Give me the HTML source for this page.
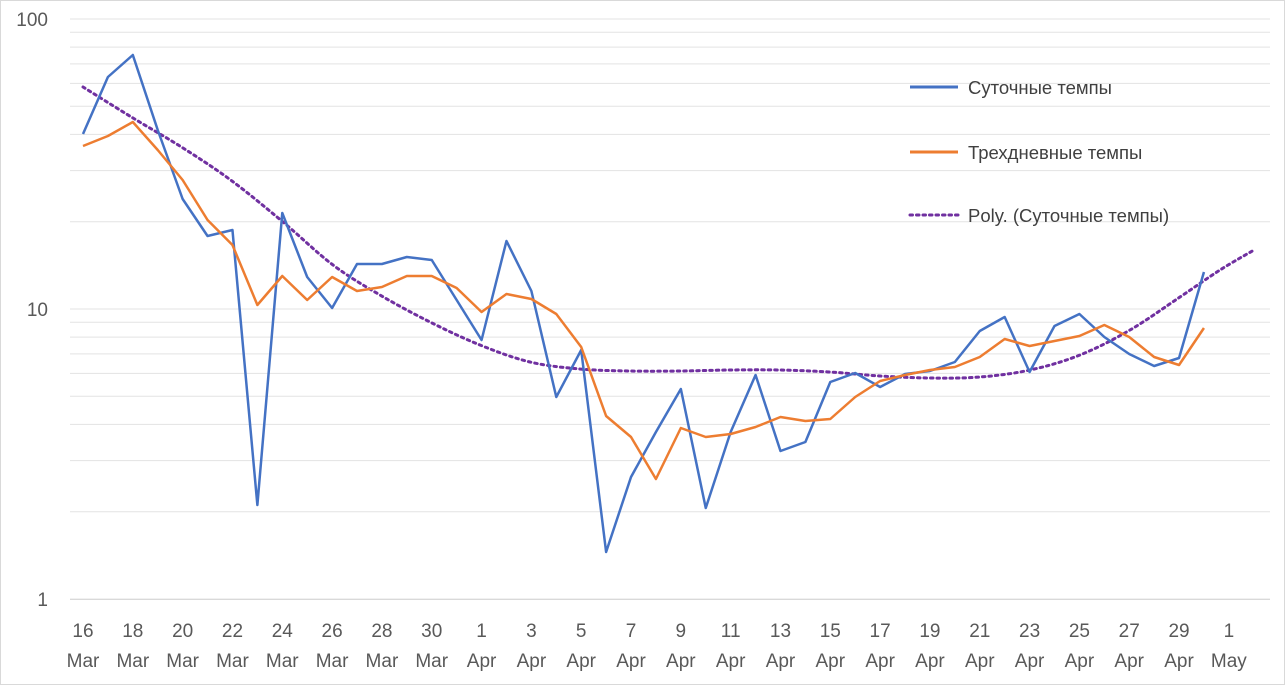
<!DOCTYPE html>
<html><head><meta charset="utf-8"><style>
html,body{margin:0;padding:0;background:#fff;}
svg{display:block;font-family:"Liberation Sans",sans-serif;}
</style></head><body>
<svg width="1285" height="685" viewBox="0 0 1285 685" xmlns="http://www.w3.org/2000/svg">
<rect x="0.5" y="0.5" width="1284" height="684" fill="#fff" stroke="#d9d9d9"/>
<g id="grid" stroke="#e3e3e3" stroke-width="1"></g>
<line x1="70" y1="599.5" x2="1270" y2="599.5" stroke="#d9d9d9"/>
<g fill="#595959" font-size="19" text-anchor="end">
<text x="48" y="26">100</text><text x="48" y="316">10</text><text x="48" y="606">1</text>
</g>
<g id="xl" fill="#595959" font-size="19" text-anchor="middle"></g>
<path id="poly" fill="none" stroke="#7030a0" stroke-width="3" stroke-dasharray="2.5,4" stroke-linecap="round"/>
<polyline id="blue" fill="none" stroke="#4472c4" stroke-width="2.5" stroke-linejoin="round"/>
<polyline id="orange" fill="none" stroke="#ed7d31" stroke-width="2.5" stroke-linejoin="round"/>
<g font-size="18.5" fill="#404040">
<line x1="910" y1="87" x2="958" y2="87" stroke="#4472c4" stroke-width="3"/>
<text x="968" y="94">Суточные темпы</text>
<line x1="910" y1="152" x2="958" y2="152" stroke="#ed7d31" stroke-width="3"/>
<text x="968" y="159">Трехдневные темпы</text>
<line x1="910" y1="215" x2="958" y2="215" stroke="#7030a0" stroke-width="3" stroke-dasharray="2.5,4" stroke-linecap="round"/>
<text x="968" y="222">Poly. (Суточные темпы)</text>
</g>
</svg>
<script>
var ns="http://www.w3.org/2000/svg";
var g=document.getElementById('grid');
for(var d=0;d<2;d++)for(var k=1;k<=10;k++){var y=599-290*(d+Math.log10(k));
var l=document.createElementNS(ns,'line');l.setAttribute('x1',70);l.setAttribute('x2',1270);l.setAttribute('y1',y);l.setAttribute('y2',y);g.appendChild(l);}
function X(i){return 83+i*24.91;}
var labs=[["16","Mar"],["18","Mar"],["20","Mar"],["22","Mar"],["24","Mar"],["26","Mar"],["28","Mar"],["30","Mar"],["1","Apr"],["3","Apr"],["5","Apr"],["7","Apr"],["9","Apr"],["11","Apr"],["13","Apr"],["15","Apr"],["17","Apr"],["19","Apr"],["21","Apr"],["23","Apr"],["25","Apr"],["27","Apr"],["29","Apr"],["1","May"]];
var xl=document.getElementById('xl');
labs.forEach(function(a,i){var x=X(i*2);
[[a[0],637],[a[1],667]].forEach(function(t){var e=document.createElementNS(ns,'text');e.setAttribute('x',x);e.setAttribute('y',t[1]);e.textContent=t[0];xl.appendChild(e);});});
var B=[134,77,55,130,199,236,230,505,213,277,308,264,264,257,260,300,340,241,291,397,350,552,477,432,389,508,432,375,451,442,382,373,387,374,371,362,331,317,372,326,314,337,354,366,358,272];
var O=[146,136,122,150,180,220,245,305,276,300,277,291,287,276,276,288,312,294,299,314,347,416,437,479,428,437,434,427,417,421,419,397,381,375,370,367,357,339,346,341,336,325,337,357,365,328];
function pts(a){return a.map(function(y,i){return X(i)+","+y;}).join(" ");}
document.getElementById('blue').setAttribute('points',pts(B));
document.getElementById('orange').setAttribute('points',pts(O));
var P=[[83,87],[133,118],[183,148],[232,181],[283,222],[333,265],[380,295],[430,322],[480,345],[530,362],[580,369],[630,371],[680,371],[730,370],[780,370],[830,372],[880,376],[930,378],[980,377],[1030,370],[1080,355],[1130,330],[1180,297],[1220,270],[1254,250]];
var dstr="M"+P[0][0]+","+P[0][1];
for(var i=0;i<P.length-1;i++){var p0=P[Math.max(0,i-1)],p1=P[i],p2=P[i+1],p3=P[Math.min(P.length-1,i+2)];
var c1x=p1[0]+(p2[0]-p0[0])/6,c1y=p1[1]+(p2[1]-p0[1])/6,c2x=p2[0]-(p3[0]-p1[0])/6,c2y=p2[1]-(p3[1]-p1[1])/6;
dstr+=" C"+c1x+","+c1y+" "+c2x+","+c2y+" "+p2[0]+","+p2[1];}
document.getElementById('poly').setAttribute('d',dstr);
</script>
</body></html>
